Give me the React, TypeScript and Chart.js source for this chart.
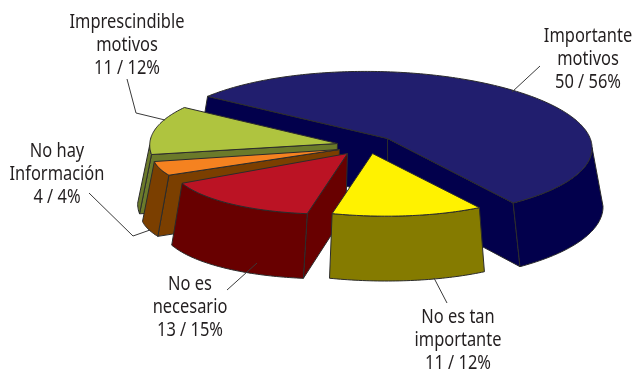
import React, { useEffect, useRef } from "react";
import { Chart, registerables } from "chart.js";

Chart.register(...registerables);

// Pie contents, clockwise from the far left edge of the largest slice.
const categories = ["Importante motivos", "No es tan importante", "No es necesario", "No hay Información", "Imprescindible motivos"];
const counts = [50, 11, 13, 4, 11];
const topColors = ["#211e6e", "#fff200", "#bb1324", "#f58220", "#afc43f"];
const wallColors = ["#02004c", "#857b00", "#680000", "#7b3f00", "#6b7a2a"];

// Painter's order: far slices first.
const paintOrder = [0, 4, 3, 2, 1];

// Camera model for the tilted, extruded pie.
const HALF_WIDTH = 202;
const HALF_DEPTH = 75;
const PERSPECTIVE = 0.13;
const SHEAR = 21;
const VANISH_X = 382;
const FLARE = 0.052;
const WALL_BASE = 58;
const WALL_GROW = 0.09;
const WALL_REF_Y = 140;
const PIVOT = { x: 70, y: -46 };

// Per-slice explosion (px from the pivot), rim shift (px) and in-plane warp [xx, xy, yx, yy].
const explode = [
  [0, 0], [-15, 15], [-40, 15], [-48, 11], [-50, 5],
];
const rimShift = [
  [-12, -3.3], [0, 0], [0, 0], [0, 0], [0, 0],
];
const warp = [
  [1.054, -0.072, 0.025, 0.956],
  [0.886, -0.093, 0.064, 0.751],
  [0.867, -0.096, -0.056, 0.729],
  [0.922, -0.042, -0.039, 0.653],
  [0.929, -0.027, 0.018, 0.889],
];

type Label = { lines: string[]; x: number; y: number; leader: number[][] };
const labels: Label[] = [
  { lines: ["Importante", "motivos", "50 / 56%"], x: 588, y: 37, leader: [[540, 66], [512, 92]] },
  { lines: ["No es tan", "importante", "11 / 12%"], x: 458, y: 318, leader: [[434, 278], [447, 303]] },
  { lines: ["No es", "necesario", "13 / 15%"], x: 190, y: 285, leader: [[227, 290], [257, 263]] },
  { lines: ["No hay", "Información", "4 / 4%"], x: 57, y: 152, leader: [[89, 193], [133, 236], [150, 230]] },
  { lines: ["Imprescindible", "motivos", "11 / 12%"], x: 127, y: 23, leader: [[127, 79], [136, 113], [165, 120]] },
];
const LINE_HEIGHT = 23;
const LABEL_FONT = "19px 'Noto Sans', sans-serif";
const LABEL_CONDENSE = 0.865;

type Pt = { x: number; y: number };

const pie3d = {
  id: "pie3d",
  beforeDatasetsDraw(chart: any) {
    const ctx: CanvasRenderingContext2D = chart.ctx;
    const arcs = chart.getDatasetMeta(0).data;
    const base = { x: arcs[0].x + PIVOT.x, y: arcs[0].y + PIVOT.y };

    const place = (i: number, radius: number, angle: number, shift: number[]): Pt => {
      const [xx, xy, yx, yy] = warp[i];
      const c = radius * Math.cos(angle);
      const s = radius * Math.sin(angle);
      const X = xx * c + xy * s;
      const Y = yx * c + yy * s;
      const w = 1 - PERSPECTIVE * Y;
      return {
        x: base.x + explode[i][0] + shift[0] + (HALF_WIDTH * X + SHEAR * Y) / w,
        y: base.y + explode[i][1] + shift[1] + (HALF_DEPTH * Y) / w,
      };
    };
    const drop = (p: Pt): Pt => ({
      x: VANISH_X + (p.x - VANISH_X) * (1 + FLARE),
      y: p.y + WALL_BASE + WALL_GROW * (p.y - WALL_REF_Y),
    });
    const fillPoly = (pts: Pt[], color: string) => {
      ctx.beginPath();
      pts.forEach((p, k) => (k ? ctx.lineTo(p.x, p.y) : ctx.moveTo(p.x, p.y)));
      ctx.closePath();
      ctx.fillStyle = color;
      ctx.fill();
      ctx.stroke();
    };

    ctx.save();
    ctx.lineWidth = 1;
    ctx.lineJoin = "round";
    ctx.strokeStyle = "#2b2b2b";

    for (const i of paintOrder) {
      const arc = arcs[i];
      const { startAngle, endAngle } = arc.getProps(["startAngle", "endAngle"]);
      const steps = Math.max(8, Math.round(((endAngle - startAngle) * 180) / Math.PI));
      const rim: Pt[] = [];
      for (let k = 0; k <= steps; k++) rim.push(place(i, 1, startAngle + ((endAngle - startAngle) * k) / steps, rimShift[i]));
      const apex = place(i, 0, 0, [0, 0]);
      const inner = place(i, 0.4, (startAngle + endAngle) / 2, [0, 0]);

      // Radial cut faces, only when they turn towards the viewer.
      for (const corner of [rim[0], rim[steps]]) {
        const [a, b] = corner.x > apex.x ? [apex, corner] : [corner, apex];
        const side = (b.x - a.x) * (inner.y - a.y) - (b.y - a.y) * (inner.x - a.x);
        if (side < 0) fillPoly([apex, corner, drop(corner), drop(apex)], wallColors[i]);
      }

      // Outer wall, for the stretch of rim that runs right to left on screen.
      let run: Pt[] = [];
      const flush = () => {
        if (run.length > 1) fillPoly([...run, ...run.map(drop).reverse()], wallColors[i]);
        run = [];
      };
      for (let k = 0; k < steps; k++) {
        if (rim[k + 1].x < rim[k].x) {
          if (!run.length) run.push(rim[k]);
          run.push(rim[k + 1]);
        } else flush();
      }
      flush();

      fillPoly([apex, ...rim], topColors[i]);
    }
    ctx.restore();
    return false;
  },
  afterDraw(chart: any) {
    const ctx: CanvasRenderingContext2D = chart.ctx;
    ctx.save();
    ctx.strokeStyle = "#3a3a3a";
    ctx.lineWidth = 1;
    for (const l of labels) {
      ctx.beginPath();
      l.leader.forEach(([x, y], k) => (k ? ctx.lineTo(x, y) : ctx.moveTo(x, y)));
      ctx.stroke();
    }
    ctx.fillStyle = "#231f20";
    ctx.font = LABEL_FONT;
    ctx.textAlign = "center";
    ctx.textBaseline = "middle";
    for (const l of labels) {
      l.lines.forEach((t, k) => ctx.fillText(t, l.x, l.y + k * LINE_HEIGHT, ctx.measureText(t).width * LABEL_CONDENSE));
    }
    ctx.restore();
  },
};

export default function App() {
  const ref = useRef<HTMLCanvasElement>(null);
  useEffect(() => {
    document.body.style.margin = "0";
    document.body.style.background = "#fff";
    const chart = new Chart(ref.current!, {
      type: "pie",
      data: {
        labels: categories,
        datasets: [{ data: counts, backgroundColor: topColors, borderWidth: 0 }],
      },
      options: {
        animation: false,
        responsive: false,
        rotation: -56,
        plugins: { legend: { display: false }, tooltip: { enabled: false } },
      },
      plugins: [pie3d],
    });
    return () => chart.destroy();
  }, []);
  return <canvas ref={ref} width={635} height={369} style={{ display: "block" }} />;
}
